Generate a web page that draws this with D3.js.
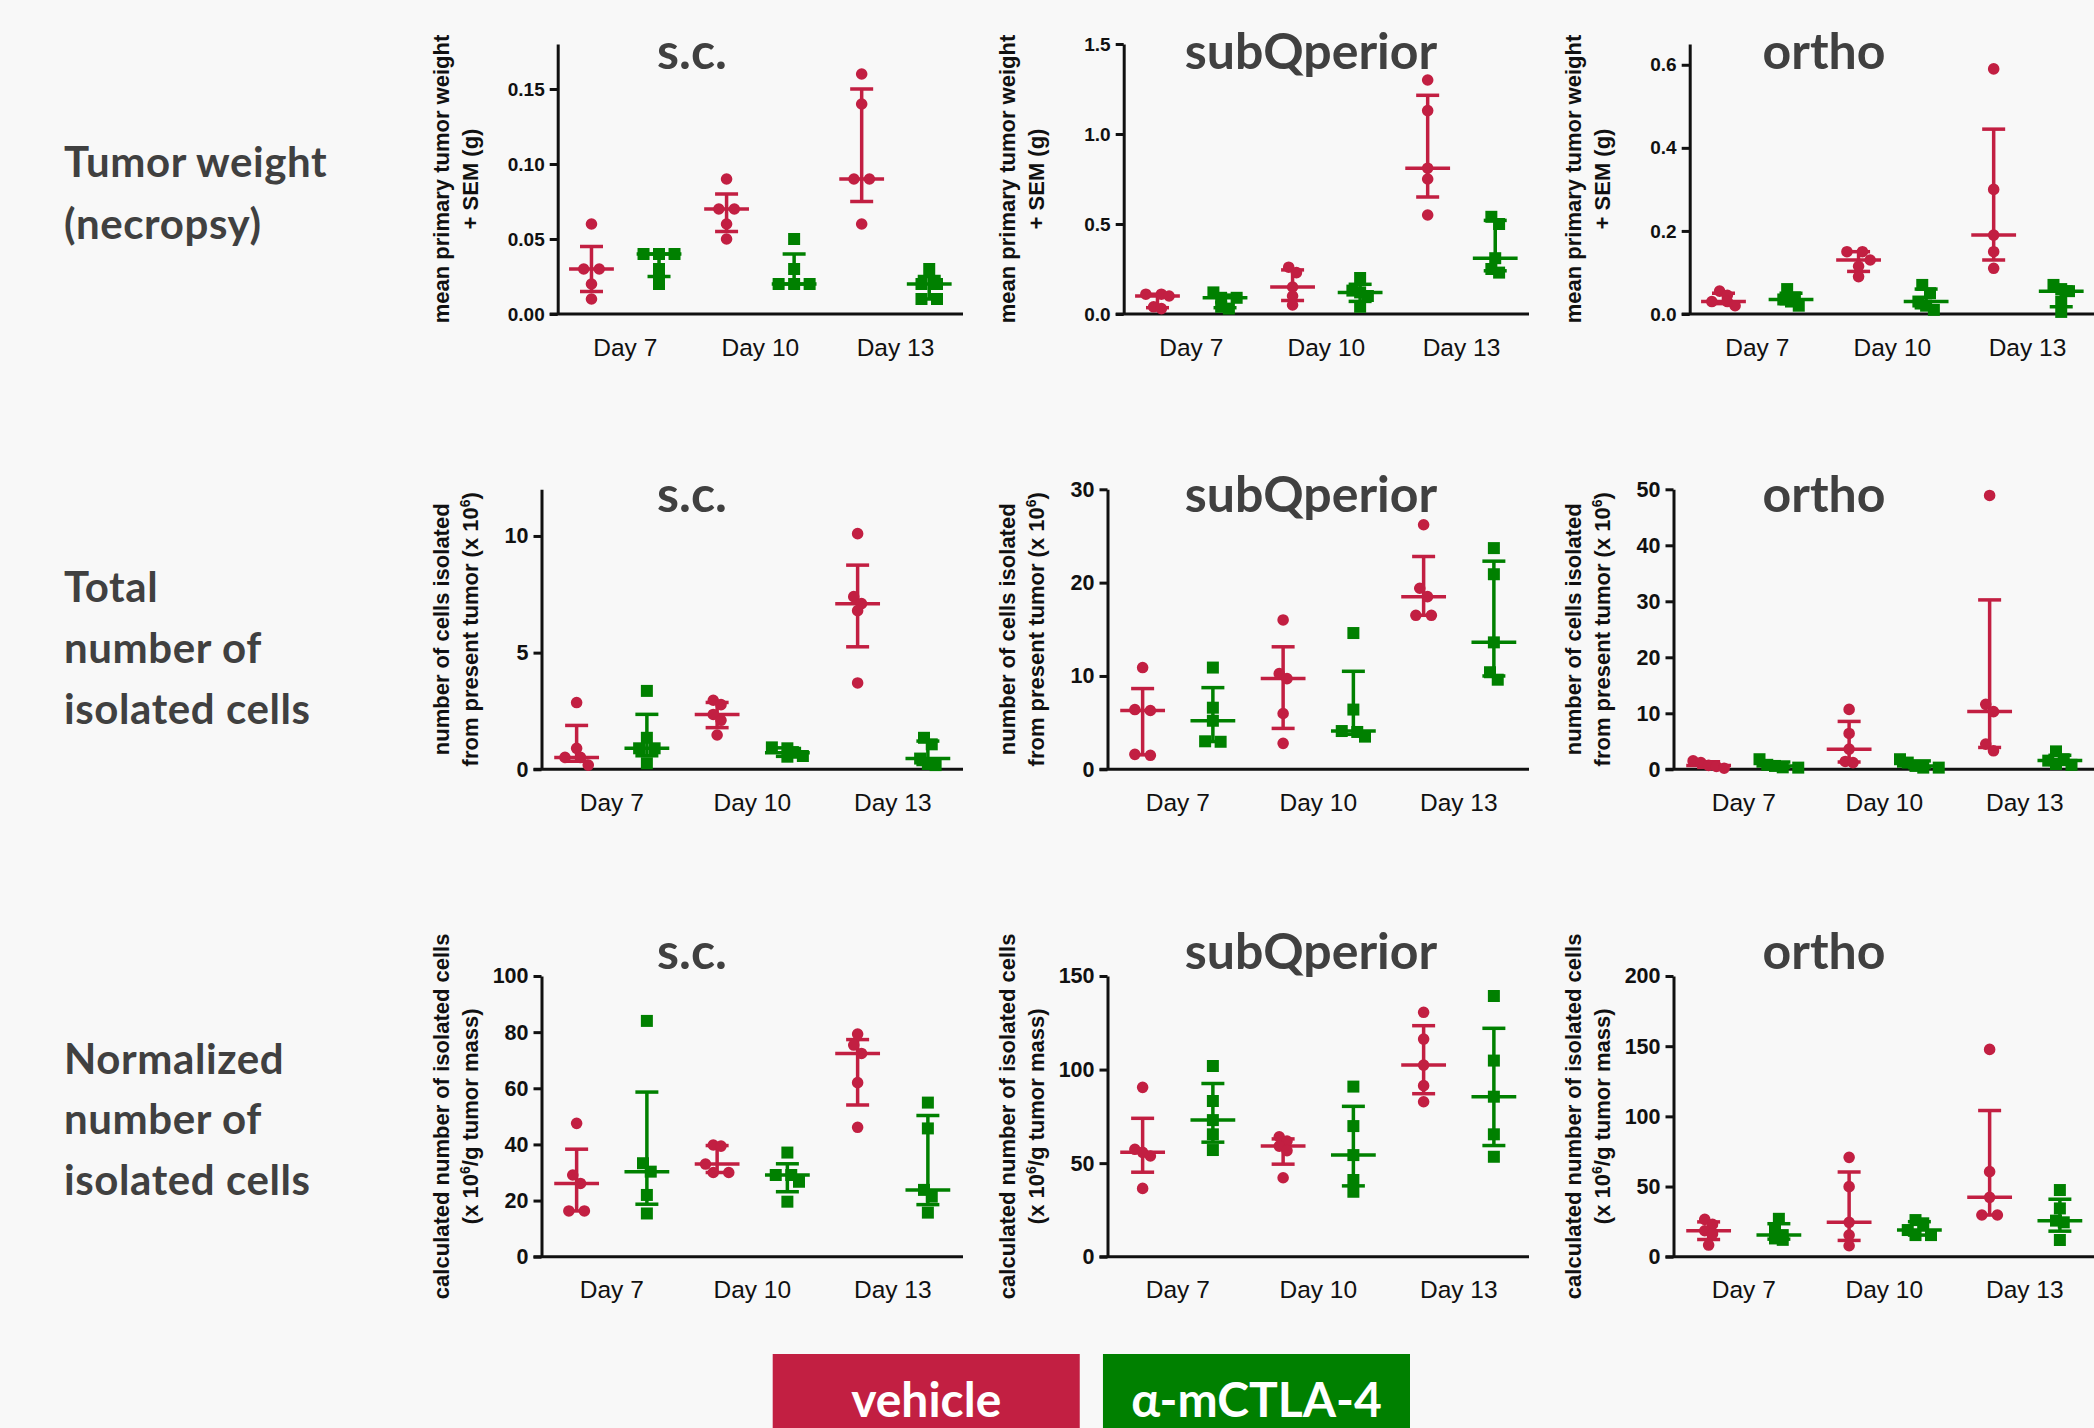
<!DOCTYPE html>
<html>
<head>
<meta charset="utf-8">
<script src="https://cdn.jsdelivr.net/npm/d3@7"></script>
<style>
  body { margin: 0; background: #f8f8f8; }
  svg { display: block; }
</style>
</head>
<body>
<div id="chart"></div>
<script>
// categories
var days = ["Day 7", "Day 10", "Day 13"];
var groups = ["vehicle", "α-mCTLA-4"];
var sites = ["s.c.", "subQperior", "ortho"];
var rowLabels = [
    ["Tumor weight", "(necropsy)"],
    ["Total", "number of", "isolated cells"],
    ["Normalized", "number of", "isolated cells"]
];

// y axis maxima and tick values, one per site
var yMaxWeight = [0.18, 1.5, 0.65];
var yMaxCells = [12, 30, 50];
var yMaxNorm = [100, 150, 200];
var ticksWeight = [[0, 0.05, 0.10, 0.15], [0, 0.5, 1.0, 1.5], [0, 0.2, 0.4, 0.6]];
var ticksCells = [[0, 5, 10], [0, 10, 20, 30], [0, 10, 20, 30, 40, 50]];
var ticksNorm = [[0, 20, 40, 60, 80, 100], [0, 50, 100, 150], [0, 50, 100, 150, 200]];
var formatWeight = [".2f", ".1f", ".1f"];

// tumor weight (g), per day
var weightScVehicle = [[0.06, 0.03, 0.03, 0.02, 0.01], [0.09, 0.07, 0.07, 0.06, 0.05], [0.16, 0.14, 0.09, 0.09, 0.06]];
var weightScCtla4 = [[0.04, 0.04, 0.04, 0.03, 0.02], [0.05, 0.03, 0.02, 0.02, 0.02], [0.03, 0.02, 0.02, 0.01, 0.01]];
var weightSubqVehicle = [[0.11, 0.11, 0.10, 0.04, 0.03], [0.26, 0.23, 0.15, 0.10, 0.05], [1.30, 1.13, 0.81, 0.75, 0.55]];
var weightSubqCtla4 = [[0.12, 0.09, 0.09, 0.04, 0.03], [0.20, 0.13, 0.12, 0.10, 0.04], [0.54, 0.50, 0.31, 0.25, 0.23]];
var weightOrthoVehicle = [[0.055, 0.045, 0.03, 0.03, 0.02], [0.15, 0.15, 0.13, 0.115, 0.09], [0.59, 0.30, 0.19, 0.15, 0.11]];
var weightOrthoCtla4 = [[0.06, 0.04, 0.035, 0.03, 0.02], [0.07, 0.05, 0.03, 0.02, 0.01], [0.07, 0.06, 0.055, 0.03, 0.005]];

// total isolated cells (x 10^6)
var cellsScVehicle = [[2.86, 0.9, 0.51, 0.51, 0.18], [2.96, 2.77, 2.35, 2.1, 1.47], [10.1, 7.4, 7.1, 6.8, 3.7]];
var cellsScCtla4 = [[3.36, 1.35, 0.9, 0.9, 0.26], [0.94, 0.9, 0.71, 0.57, 0.54], [1.35, 1.07, 0.46, 0.23, 0.18]];
var cellsSubqVehicle = [[10.9, 6.4, 6.3, 1.6, 1.5], [16.0, 10.25, 9.72, 5.98, 2.78], [26.2, 19.4, 18.5, 16.5, 16.5]];
var cellsSubqCtla4 = [[10.9, 6.6, 5.2, 3.0, 2.95], [14.6, 6.4, 4.1, 4.0, 3.5], [23.7, 20.9, 13.6, 10.4, 9.6]];
var cellsOrthoVehicle = [[1.5, 1.2, 0.7, 0.5, 0.2], [10.7, 6.4, 3.6, 1.4, 1.2], [48.9, 11.6, 10.3, 4.5, 3.3]];
var cellsOrthoCtla4 = [[1.8, 0.8, 0.6, 0.35, 0.3], [1.8, 1.2, 0.6, 0.3, 0.3], [3.2, 1.8, 1.55, 0.95, 0.8]];

// normalized cells (x 10^6 / g)
var normScVehicle = [[47.5, 29.1, 26.1, 16.3, 16.3], [39.8, 39.4, 33.0, 30.0, 30.0], [79.3, 75.4, 72.4, 62.0, 46.1]];
var normScCtla4 = [[84, 33.3, 30.3, 22, 15.4], [37.1, 29.1, 29.1, 26.7, 19.6], [54.9, 45.7, 23.8, 21.4, 15.7]];
var normSubqVehicle = [[90.5, 57.4, 55.8, 53.8, 36.5], [64.1, 61.8, 59.1, 56.7, 42.2], [130.6, 116.3, 102.4, 91.4, 82.8]];
var normSubqCtla4 = [[101.9, 83.2, 73.0, 65.4, 57.0], [90.9, 69.8, 54.3, 41.0, 34.7], [139.3, 104.8, 85.5, 65.4, 53.4]];
var normOrthoVehicle = [[26.6, 23.0, 18.5, 16.2, 8.3], [70.8, 49.9, 24.5, 15.4, 7.8], [147.7, 60.6, 42.3, 29.7, 29.7]];
var normOrthoCtla4 = [[27, 20, 15.4, 13, 12], [26.1, 23.8, 19.0, 15.4, 15.4], [47.5, 34.4, 25.7, 24.5, 11.9]];

var red = "#c21f42", green = "#008000";
var colors = [red, green];
var textGrey = "#404040";
var arial = "'Liberation Sans', Arial, sans-serif";
var gothic = "Lato, 'Noto Sans', sans-serif";

var rows = [
    { max: yMaxWeight, ticks: ticksWeight, fmt: formatWeight,
      data: [[weightScVehicle, weightScCtla4], [weightSubqVehicle, weightSubqCtla4], [weightOrthoVehicle, weightOrthoCtla4]],
      ytitle: [["mean primary tumor weight"], ["+ SEM (g)"]],
      top: 44, zero: 314, left: 557.7, titleY: 69, tickSize: 19 },
    { max: yMaxCells, ticks: ticksCells, fmt: ["d", "d", "d"],
      data: [[cellsScVehicle, cellsScCtla4], [cellsSubqVehicle, cellsSubqCtla4], [cellsOrthoVehicle, cellsOrthoCtla4]],
      ytitle: [["number of cells isolated"], ["from present tumor (x 10", "6", ")"]],
      top: 489.3, zero: 769.3, left: 541.5, titleY: 512, tickSize: 21.5 },
    { max: yMaxNorm, ticks: ticksNorm, fmt: ["d", "d", "d"],
      data: [[normScVehicle, normScCtla4], [normSubqVehicle, normSubqCtla4], [normOrthoVehicle, normOrthoCtla4]],
      ytitle: [["calculated number of isolated cells"], ["(x 10", "6", "/g tumor mass)"]],
      top: 976, zero: 1256.7, left: 541.5, titleY: 969, tickSize: 21.5 }
];

var colStep = 566;
var titleX = [692, 1311, 1824];
var labelBase = [[177, 239], [602, 663, 724], [1074, 1134, 1195]];

// GraphPad style quantile: rank (n+1)p
function quant(sorted, p) {
    var n = sorted.length, h = (n + 1) * p;
    if (h <= 1) return sorted[0];
    if (h >= n) return sorted[n - 1];
    var k = Math.floor(h);
    return sorted[k - 1] + (h - k) * (sorted[k] - sorted[k - 1]);
}

// scatter spread: points close in y share a row, exact ties get a full step apart
function spread(vals, y) {
    var pts = vals.map(function(v) { return { v: v, py: y(v) }; })
        .sort(function(a, b) { return a.py - b.py; });
    var rowsOut = [], cur = [];
    pts.forEach(function(p) {
        if (cur.length && p.py - cur[0].py >= 9) { rowsOut.push(cur); cur = []; }
        cur.push(p);
    });
    if (cur.length) rowsOut.push(cur);
    rowsOut.forEach(function(r) {
        var pos = 0;
        r.forEach(function(p, i) {
            if (i > 0) pos += (p.py - r[i - 1].py < 1) ? 15.5 : 7.75;
            p.dx = pos;
        });
        r.forEach(function(p) { p.dx -= pos / 2; });
    });
    return pts;
}

var svg = d3.select("#chart").append("svg")
    .attr("width", 2094)
    .attr("height", 1428);

svg.append("rect").attr("width", 2094).attr("height", 1428).attr("fill", "#f8f8f8");

// row labels
rowLabels.forEach(function(lines, r) {
    svg.selectAll(".rl" + r)
        .data(lines)
        .enter()
        .append("text")
        .attr("x", 64)
        .attr("y", function(d, i) { return labelBase[r][i]; })
        .attr("font-family", gothic)
        .attr("font-weight", 700)
        .attr("font-size", 42)
        .attr("letter-spacing", 0.6)
        .attr("fill", textGrey)
        .text(function(d) { return d; });
});

var circleSym = d3.symbol().type(d3.symbolCircle).size(Math.PI * 5.8 * 5.8);
var squareSym = d3.symbol().type(d3.symbolSquare).size(12 * 12);

rows.forEach(function(row, r) {
    sites.forEach(function(site, c) {
        var left = row.left + c * colStep;
        var right = 963 + c * colStep;
        var g = svg.append("g");

        var y = d3.scaleLinear().domain([0, row.max[c]]).range([row.zero, row.top]);
        var x = d3.scaleBand().domain(days).range([left, right]).padding(0);
        var off = x.bandwidth() / 4;

        // title
        g.append("text")
            .attr("x", titleX[c])
            .attr("y", row.titleY)
            .attr("text-anchor", "middle")
            .attr("font-family", gothic)
            .attr("font-weight", 700)
            .attr("font-size", 50)
            .attr("fill", textGrey)
            .text(site);

        // y title, two lines
        var cy = (row.top + row.zero) / 2;
        row.ytitle.forEach(function(parts, li) {
            var t = g.append("text")
                .attr("transform", "translate(" + (449 + li * 29 + c * colStep) + "," + cy + ") rotate(-90)")
                .attr("text-anchor", "middle")
                .attr("font-family", arial)
                .attr("font-weight", 700)
                .attr("font-size", 22)
                .attr("fill", "#111");
            parts.forEach(function(p, pi) {
                var s = t.append("tspan").text(p);
                if (pi === 1) s.attr("baseline-shift", "super").attr("font-size", 14);
            });
        });

        // y axis
        var yAxis = g.append("g")
            .attr("transform", "translate(" + left + ",0)")
            .call(d3.axisLeft(y)
                .tickValues(row.ticks[c])
                .tickFormat(d3.format(row.fmt[c]))
                .tickSize(8)
                .tickSizeOuter(0)
                .tickPadding(5));
        yAxis.select(".domain").attr("stroke", "#111").attr("stroke-width", 3);
        yAxis.selectAll(".tick line").attr("stroke", "#111").attr("stroke-width", 3);
        yAxis.selectAll(".tick text")
            .attr("font-family", arial)
            .attr("font-weight", 700)
            .attr("font-size", row.tickSize)
            .attr("fill", "#111");

        // x axis
        var xAxis = g.append("g")
            .attr("transform", "translate(0," + row.zero + ")")
            .call(d3.axisBottom(x).tickSize(0).tickSizeOuter(0));
        xAxis.select(".domain").remove();
        xAxis.selectAll(".tick text")
            .attr("y", 41.5)
            .attr("dy", null)
            .attr("font-family", arial)
            .attr("font-size", 24.5)
            .attr("fill", "#111");
        g.append("line")
            .attr("x1", left - 8)
            .attr("x2", right)
            .attr("y1", row.zero)
            .attr("y2", row.zero)
            .attr("stroke", "#111")
            .attr("stroke-width", 3);

        // groups
        row.data[c].forEach(function(series, gi) {
            series.forEach(function(vals, di) {
                var cx = x(days[di]) + x.bandwidth() / 2 + (gi === 0 ? -off : off);
                var sorted = vals.slice().sort(d3.ascending);
                var q1 = quant(sorted, 0.25), med = quant(sorted, 0.5), q3 = quant(sorted, 0.75);
                var col = colors[gi];
                var bars = [
                    [cx, y(q1), cx, y(q3)],
                    [cx - 11.5, y(q1), cx + 11.5, y(q1)],
                    [cx - 11.5, y(q3), cx + 11.5, y(q3)],
                    [cx - 22.4, y(med), cx + 22.4, y(med)]
                ];
                g.selectAll(null)
                    .data(bars)
                    .enter()
                    .append("line")
                    .attr("x1", function(d) { return d[0]; })
                    .attr("y1", function(d) { return d[1]; })
                    .attr("x2", function(d) { return d[2]; })
                    .attr("y2", function(d) { return d[3]; })
                    .attr("stroke", col)
                    .attr("stroke-width", 3.5);

                g.selectAll(null)
                    .data(spread(vals, y))
                    .enter()
                    .append("path")
                    .attr("d", gi === 0 ? circleSym : squareSym)
                    .attr("transform", function(d) { return "translate(" + (cx + d.dx) + "," + d.py + ")"; })
                    .attr("fill", col);
            });
        });
    });
});

// legend boxes
var legendX = d3.scaleBand().domain(groups).range([772.7, 1410]).paddingInner(0.0703);
var legend = svg.selectAll(".legend")
    .data(groups)
    .enter()
    .append("g");
legend.append("rect")
    .attr("x", function(d) { return legendX(d); })
    .attr("y", 1354)
    .attr("width", legendX.bandwidth())
    .attr("height", 90)
    .attr("fill", function(d, i) { return colors[i]; });
legend.append("text")
    .attr("x", function(d) { return legendX(d) + legendX.bandwidth() / 2; })
    .attr("y", 1417)
    .attr("text-anchor", "middle")
    .attr("font-family", gothic)
    .attr("font-weight", 700)
    .attr("font-size", 48)
    .attr("fill", "white")
    .text(function(d) { return d; });
</script>
</body>
</html>
